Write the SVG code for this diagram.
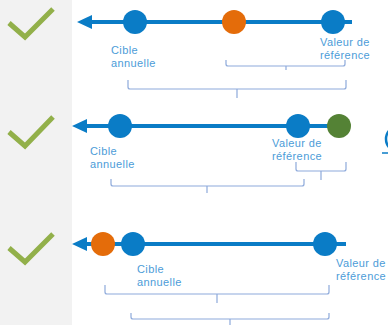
<svg xmlns="http://www.w3.org/2000/svg" width="388" height="325" viewBox="0 0 388 325">
<defs>
<style>
.chk{fill:none;stroke:#92b04a;stroke-width:5}
.ln{stroke:#0a7cc6;stroke-width:4;fill:none}
.ah{fill:#0a7cc6}
.b{fill:#0a7cc6}
.o{fill:#e46c0a}
.g{fill:#548235}
.br{fill:none;stroke:#8eaadb;stroke-width:1.2}
.t{font-family:"Liberation Sans",Arial,sans-serif;font-size:11px;letter-spacing:0.4px;fill:#4c9cd8}
</style>
</defs>
<rect x="0" y="0" width="72" height="325" fill="#f2f2f2"/>
<g id="checks">
<polyline class="chk" points="9,23 25,37 53,9"/>
<polyline class="chk" points="9,132 25,146 53,117"/>
<polyline class="chk" points="9,248 25,262 53,234"/>
</g>
<g id="connectors">
<line class="ln" x1="88" y1="22" x2="352" y2="22"/>
<polygon class="ah" points="77,22 92,15 92,29"/>
<line class="ln" x1="83" y1="126" x2="339" y2="126"/>
<polygon class="ah" points="72,126 87,119 87,133"/>
<line class="ln" x1="83" y1="244" x2="346" y2="244"/>
<polygon class="ah" points="72,244 87,237 87,251"/>
</g>
<g id="row1">
<circle class="b" cx="135" cy="22" r="12"/>
<circle class="o" cx="234" cy="22" r="12"/>
<circle class="b" cx="333" cy="22" r="12"/>
<text class="t" x="111" y="54">Cible</text>
<text class="t" x="111" y="66.6">annuelle</text>
<text class="t" x="320" y="46">Valeur de</text>
<text class="t" x="320" y="58.6">référence</text>
<path class="br" d="M226,60 V64 Q226,66 228,66 H343 Q345,66 345,64 V60 M286,66 V70"/>
<path class="br" d="M128,80 V87 Q128,89 130,89 H344 Q346,89 346,87 V80 M237,89 V98"/>
</g>
<g id="row2">
<circle class="b" cx="120" cy="126" r="12"/>
<circle class="b" cx="298" cy="126" r="12"/>
<circle class="g" cx="339" cy="126" r="12"/>
<text class="t" x="90" y="155">Cible</text>
<text class="t" x="90" y="167.6">annuelle</text>
<text class="t" x="272" y="147">Valeur de</text>
<text class="t" x="272" y="159.6">référence</text>
<path class="br" d="M296,162 V169 Q296,171 298,171 H344 Q346,171 346,169 V162 M321,171 V180"/>
<path class="br" d="M111,179 V184 Q111,186 113,186 H302 Q304,186 304,184 V179 M207,186 V193"/>
<circle cx="399" cy="139" r="13" fill="none" stroke="#0a7cc6" stroke-width="2.5"/>
<line x1="382" y1="153" x2="388" y2="153" stroke="#0a7cc6" stroke-width="1.5"/>
</g>
<g id="row3">
<circle class="o" cx="103" cy="244" r="12"/>
<circle class="b" cx="133" cy="244" r="12"/>
<circle class="b" cx="325" cy="244" r="12"/>
<text class="t" x="137" y="273">Cible</text>
<text class="t" x="137" y="285.6">annuelle</text>
<text class="t" x="336" y="267">Valeur de</text>
<text class="t" x="336" y="279.6">référence</text>
<path class="br" d="M105,285 V292 Q105,294 107,294 H327 Q329,294 329,292 V285 M217,294 V303"/>
<path class="br" d="M131,313 V317 Q131,319 133,319 H327 Q329,319 329,317 V313 M230,319 V326"/>
</g>
</svg>
